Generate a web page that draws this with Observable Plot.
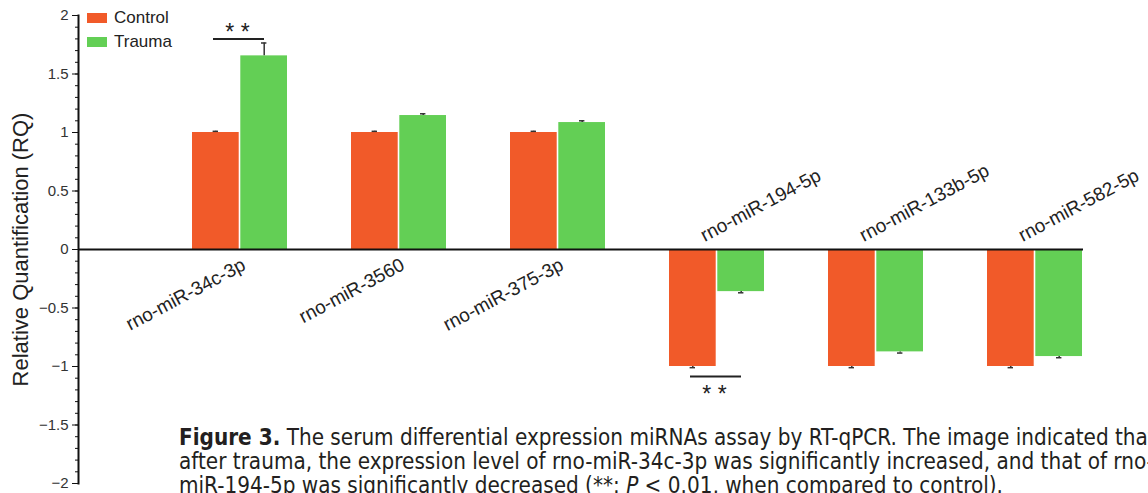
<!DOCTYPE html>
<html><head><meta charset="utf-8">
<script src="https://cdn.jsdelivr.net/npm/d3@7"></script>
<script src="https://cdn.jsdelivr.net/npm/@observablehq/plot@0.6"></script>
<style>
html,body{margin:0;padding:0;background:#fff;}
body{width:1148px;height:493px;overflow:hidden;position:relative;font-family:"Liberation Sans",Arial,sans-serif;}
#chart{position:absolute;left:0;top:0;}
#legend{position:absolute;left:87px;top:6px;font-size:17px;color:#222;}
.item{display:flex;align-items:center;height:24px;}
.sw{width:20px;height:10px;margin-right:7px;}
#caption{position:absolute;left:179px;top:425px;font-family:"Liberation Sans Narrow","DejaVu Sans Condensed",sans-serif;font-size:22.3px;line-height:24px;color:#231f20;white-space:nowrap;}
</style></head><body>
<div id="chart"></div>
<div id="legend"></div>
<div id="caption"><b>Figure 3.</b> The serum differential expression miRNAs assay by RT-qPCR. The image indicated that<br>after trauma, the expression level of rno-miR-34c-3p was significantly increased, and that of rno-<br>miR-194-5p was significantly decreased (**: <i>P</i> &lt; 0.01, when compared to control).</div>
<script>
const categories = ["rno-miR-34c-3p","rno-miR-3560","rno-miR-375-3p","rno-miR-194-5p","rno-miR-133b-5p","rno-miR-582-5p"];
const groups = ["Control","Trauma"];
const groupColors = ["#F15A29","#63CF55"];
const control = [1,1,1,-1,-1,-1];
const trauma = [1.655,1.145,1.085,-0.36,-0.875,-0.915];
const controlErr = [0.01,0.01,0.01,0.01,0.01,0.01];
const traumaErr = [0.11,0.015,0.015,0.01,0.01,0.01];
const majorTicks = [-2,-1.5,-1,-0.5,0,0.5,1,1.5,2];
const minorTicks = d3.range(-20,21).map(d => d/10);
const sigCategories = ["rno-miR-34c-3p","rno-miR-194-5p"];
const sigLineY = [1.8,-1.085];
const sigStarY = [1.85,-1.237];
const yLabel = "Relative Quantification (RQ)";

const rows = [];
categories.forEach((c,i) => {
  rows.push({category:c, group:"Control", value:control[i], err:controlErr[i]});
  rows.push({category:c, group:"Trauma", value:trauma[i], err:traumaErr[i]});
});
rows.forEach(r => r.end = r.value + Math.sign(r.value)*r.err);
const ctrl = rows.filter(r => r.group==="Control");
const trm = rows.filter(r => r.group==="Trauma");
const sig = sigCategories.map((c,i) => ({category:c, line:sigLineY[i], star:sigStarY[i]}));
const pos = categories.filter((c,i) => control[i] > 0);
const neg = categories.filter((c,i) => control[i] < 0);
const fmt = d => (d<0 ? "\u2212" : "") + Math.abs(d);

const plot = Plot.plot({
  width:1148, height:493,
  marginTop:15, marginBottom:10, marginLeft:78, marginRight:65,
  style:{fontFamily:"'Liberation Sans', Arial, sans-serif", color:"#222", background:"transparent"},
  x:{type:"band", domain:categories, range:[191,1083], paddingInner:0.4, paddingOuter:0, axis:null},
  y:{domain:[-2,2]},
  color:{domain:groups, range:groupColors},
  marks:[
    Plot.barY(ctrl, {x:"category", y:"value", fill:"group", insetRight:48.3}),
    Plot.barY(trm, {x:"category", y:"value", fill:"group", insetLeft:48.3}),
    Plot.ruleX(ctrl, {x:"category", y1:"value", y2:"end", dx:-24.2, stroke:"#333", strokeWidth:1.5}),
    Plot.ruleX(trm, {x:"category", y1:"value", y2:"end", dx:24.2, stroke:"#333", strokeWidth:1.5}),
    Plot.tickY(ctrl, {x:"category", y:"end", insetLeft:20.6, insetRight:69, stroke:"#333", strokeWidth:1.5}),
    Plot.tickY(trm, {x:"category", y:"end", insetLeft:69, insetRight:20.6, stroke:"#333", strokeWidth:1.5}),
    Plot.ruleY([0], {stroke:"#111", strokeWidth:2}),
    Plot.frame({anchor:"left", stroke:"#111", strokeWidth:2}),
    Plot.axisY({ticks:minorTicks, tickSize:3, tickFormat:() => "", label:null, stroke:"#111"}),
    Plot.axisY({ticks:majorTicks, tickSize:6, tickPadding:4, tickFormat:fmt, label:null, fontSize:15, stroke:"#111", fill:"#333"}),
    Plot.text([yLabel], {frameAnchor:"left", textAnchor:"middle", rotate:-90, dx:-58, fontSize:22, fill:"#222"}),
    Plot.text(pos, {x:d => d, y:0, text:d => d, rotate:-28, textAnchor:"end", dx:4, dy:14, fontSize:19, fill:"#222"}),
    Plot.text(neg, {x:d => d, y:0, text:d => d, rotate:-28, textAnchor:"start", dx:-15, dy:-13, fontSize:19, fill:"#222"}),
    Plot.tickY(sig, {x:"category", y:"line", insetLeft:21, insetRight:23, stroke:"#222", strokeWidth:2}),
    Plot.text(sig, {x:"category", y:"star", text:() => "* *", dx:-2.5, fontSize:23, fill:"#222"})
  ]
});
document.getElementById("chart").appendChild(plot);

const color = plot.scale("color");
const legend = document.getElementById("legend");
groups.forEach(g => {
  const it = document.createElement("div"); it.className = "item";
  const sw = document.createElement("span"); sw.className = "sw"; sw.style.background = color.apply(g);
  const tx = document.createElement("span"); tx.textContent = g;
  it.appendChild(sw); it.appendChild(tx); legend.appendChild(it);
});
</script>
</body></html>
